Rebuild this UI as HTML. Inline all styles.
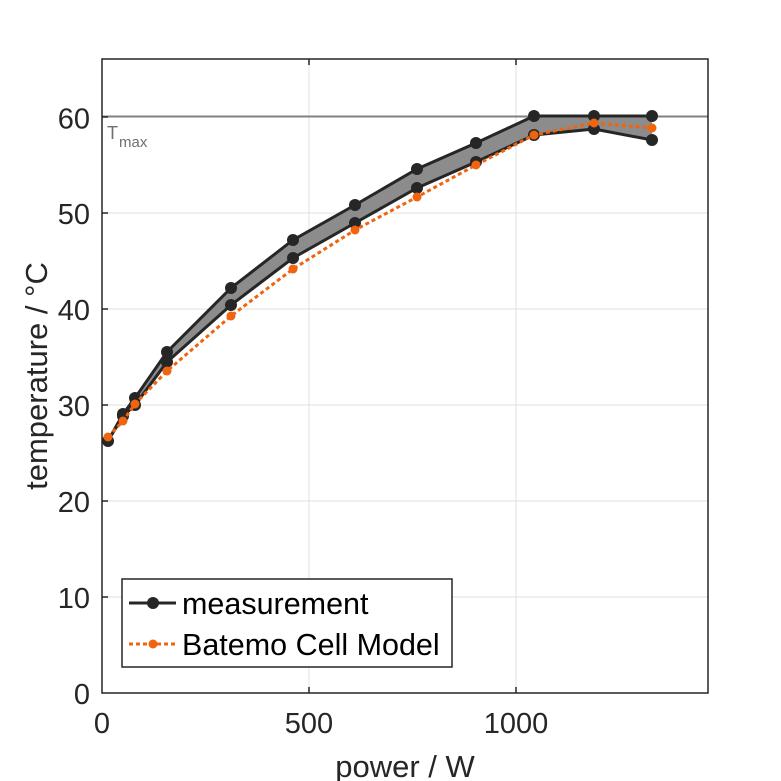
<!DOCTYPE html><html><head><meta charset="utf-8"><style>body{margin:0;background:#fff}svg{display:block}text{font-family:"Liberation Sans",sans-serif}</style></head><body>
<svg width="781" height="781" viewBox="0 0 781 781" xmlns="http://www.w3.org/2000/svg">
<rect width="781" height="781" fill="#fff"/>
<g stroke="#e0e0e0" stroke-width="1">
<line x1="309" y1="59" x2="309" y2="693"/><line x1="516" y1="59" x2="516" y2="693"/>
<line x1="102" y1="597" x2="708" y2="597"/><line x1="102" y1="501" x2="708" y2="501"/><line x1="102" y1="405" x2="708" y2="405"/><line x1="102" y1="309" x2="708" y2="309"/><line x1="102" y1="213" x2="708" y2="213"/><line x1="102" y1="117" x2="708" y2="117"/>
</g>
<line x1="102" y1="116.5" x2="708" y2="116.5" stroke="#808080" stroke-width="2"/>
<text x="107" y="139" font-size="18" fill="#707070">T</text><text x="119" y="147" font-size="15" fill="#707070">max</text>
<polygon points="108,441 123,414 135,398 167,352 231,288 293,240 355,205 417,169 476,143 534,116 594,116 652,116 652,140 594,129 534,135 476,162 417,188 355,223 293,258 231,305 167,362 135,405 123,416 108,441" fill="#8c8c8c"/>
<g fill="none" stroke="#262626" stroke-width="3">
<polyline points="108,441 123,414 135,398 167,352 231,288 293,240 355,205 417,169 476,143 534,116 594,116 652,116"/>
<polyline points="108,441 123,416 135,405 167,362 231,305 293,258 355,223 417,188 476,162 534,135 594,129 652,140"/>
</g>
<g fill="#262626">
<circle cx="108" cy="441" r="6"/><circle cx="123" cy="414" r="6"/><circle cx="135" cy="398" r="6"/><circle cx="167" cy="352" r="6"/><circle cx="231" cy="288" r="6"/><circle cx="293" cy="240" r="6"/><circle cx="355" cy="205" r="6"/><circle cx="417" cy="169" r="6"/><circle cx="476" cy="143" r="6"/><circle cx="534" cy="116" r="6"/><circle cx="594" cy="116" r="6"/><circle cx="652" cy="116" r="6"/>
<circle cx="123" cy="416" r="6"/><circle cx="135" cy="405" r="6"/><circle cx="167" cy="362" r="6"/><circle cx="231" cy="305" r="6"/><circle cx="293" cy="258" r="6"/><circle cx="355" cy="223" r="6"/><circle cx="417" cy="188" r="6"/><circle cx="476" cy="162" r="6"/><circle cx="534" cy="135" r="6"/><circle cx="594" cy="129" r="6"/><circle cx="652" cy="140" r="6"/>
</g>
<polyline points="108,437 123,421 135,404 167,371 231,316 293,269 355,230 417,197 476,165 534,135 594,123 652,128" fill="none" stroke="#f0640f" stroke-width="3" stroke-dasharray="4,3"/>
<g fill="#f0640f">
<circle cx="108" cy="437" r="4.5"/><circle cx="123" cy="421" r="4.5"/><circle cx="135" cy="404" r="4.5"/><circle cx="167" cy="371" r="4.5"/><circle cx="231" cy="316" r="4.5"/><circle cx="293" cy="269" r="4.5"/><circle cx="355" cy="230" r="4.5"/><circle cx="417" cy="197" r="4.5"/><circle cx="476" cy="165" r="4.5"/><circle cx="534" cy="135" r="4.5"/><circle cx="594" cy="123" r="4.5"/><circle cx="652" cy="128" r="4.5"/>
</g>
<rect x="102" y="59" width="606" height="634" fill="none" stroke="#262626" stroke-width="1.5"/>
<g stroke="#262626" stroke-width="1.5">
<line x1="309" y1="693" x2="309" y2="687"/><line x1="516" y1="693" x2="516" y2="687"/>
<line x1="309" y1="59" x2="309" y2="65"/><line x1="516" y1="59" x2="516" y2="65"/>
<line x1="102" y1="597" x2="108" y2="597"/><line x1="102" y1="501" x2="108" y2="501"/><line x1="102" y1="405" x2="108" y2="405"/><line x1="102" y1="309" x2="108" y2="309"/><line x1="102" y1="213" x2="108" y2="213"/><line x1="102" y1="117" x2="108" y2="117"/>
</g>
<g font-size="29" fill="#262626" text-anchor="end">
<text x="90" y="704">0</text><text x="90" y="608">10</text><text x="90" y="512">20</text><text x="90" y="416">30</text><text x="90" y="320">40</text><text x="90" y="224">50</text><text x="90" y="128.5">60</text>
</g>
<g font-size="29" fill="#262626" text-anchor="middle">
<text x="102" y="733">0</text><text x="309" y="733">500</text><text x="516" y="733">1000</text>
</g>
<g font-size="31" fill="#262626" text-anchor="middle">
<text x="405" y="777">power / W</text>
<text transform="translate(47,376) rotate(-90)">temperature / °C</text>
</g>
<rect x="122" y="579" width="330" height="88" fill="#fff" stroke="#262626" stroke-width="1.5"/>
<line x1="129" y1="603" x2="176" y2="603" stroke="#262626" stroke-width="3"/><circle cx="153" cy="603" r="6" fill="#262626"/>
<line x1="129" y1="644" x2="176" y2="644" stroke="#f0640f" stroke-width="3" stroke-dasharray="4,3"/><circle cx="153" cy="644" r="4.5" fill="#f0640f"/>
<text x="182" y="614" font-size="30.5" fill="#000">measurement</text>
<text x="182" y="655" font-size="30.5" fill="#000">Batemo Cell Model</text>
</svg>
</body></html>
